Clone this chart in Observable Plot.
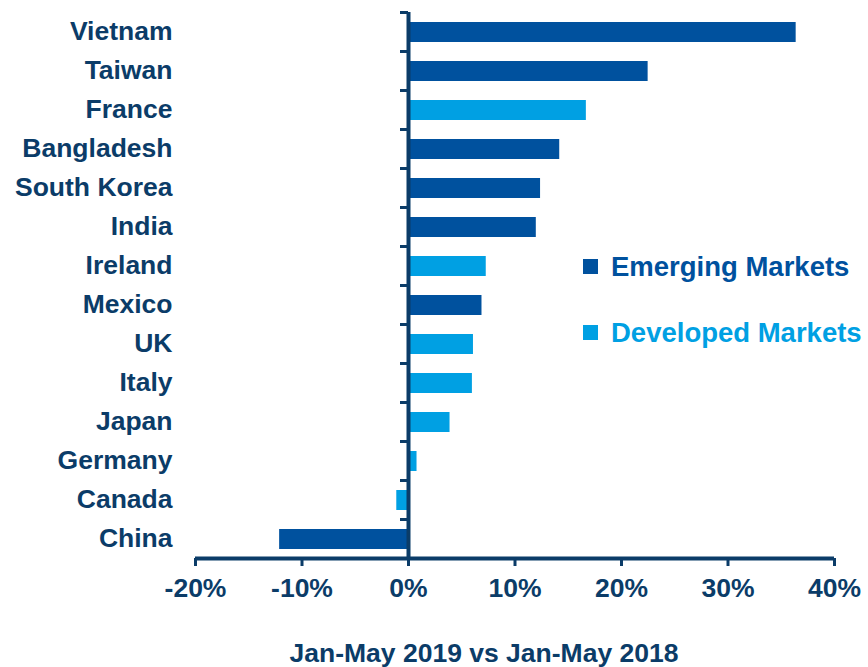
<!DOCTYPE html>
<html><head><meta charset="utf-8">
<script src="https://cdn.jsdelivr.net/npm/d3@7"></script>
<script src="https://cdn.jsdelivr.net/npm/@observablehq/plot@0.6"></script>
<style>
body{margin:0;background:#fff;font-family:"Liberation Sans",Arial,sans-serif;}
#wrap{position:relative;width:868px;height:667px;overflow:hidden;}
#title{position:absolute;left:100px;width:768px;top:638px;text-align:center;font-size:26.5px;font-weight:bold;color:#0B3C68;line-height:30px;white-space:nowrap;}
.leg{position:absolute;left:583px;font-size:27.5px;font-weight:bold;line-height:31px;white-space:nowrap;display:flex;align-items:center;}
.sw{width:15px;height:15px;margin-right:13px;display:inline-block;}
</style></head><body>
<div id="wrap"><div id="chart"></div><div id="title"></div><div id="legend"></div></div>
<script>
const countries = ["Vietnam","Taiwan","France","Bangladesh","South Korea","India","Ireland","Mexico","UK","Italy","Japan","Germany","Canada","China"];
const values = [36.4,22.5,16.7,14.2,12.4,12.0,7.3,6.9,6.1,6.0,3.9,0.8,-1.1,-12.1];
const groups = ["Emerging Markets","Emerging Markets","Developed Markets","Emerging Markets","Emerging Markets","Emerging Markets","Developed Markets","Emerging Markets","Developed Markets","Developed Markets","Developed Markets","Developed Markets","Developed Markets","Emerging Markets"];
const xTicks = [-20,-10,0,10,20,30,40];
const seriesNames = ["Emerging Markets","Developed Markets"];
const seriesColors = ["#00519E","#00A0E3"];
const xTitle = "Jan-May 2019 vs Jan-May 2018";

const navy = "#0B3C68";
const n = countries.length;
const data = countries.map((c,i)=>({country:c, value:values[i], group:groups[i], i}));

const plot = Plot.plot({
  width: 868, height: 638,
  marginLeft: 195, marginRight: 34, marginTop: 12, marginBottom: 80,
  style: {fontFamily: "Liberation Sans, Arial, sans-serif", fontSize: "26.5px", fontWeight: "bold", color: navy, background: "transparent"},
  x: {domain: [xTicks[0], xTicks[xTicks.length-1]]},
  y: {domain: [0, n], reverse: true},
  color: {domain: seriesNames, range: seriesColors},
  marks: [
    Plot.rect(data, {x1: 0, x2: "value", y1: "i", y2: d => d.i + 1, fill: "group", insetTop: 10, insetBottom: 9}),
    Plot.ruleY([n], {stroke: navy, strokeWidth: 4}),
    Plot.ruleY(d3.range(n + 1), {x1: 0, x2: 0, insetLeft: -8, stroke: navy, strokeWidth: 3}),
    Plot.ruleX([0], {stroke: navy, strokeWidth: 4}),
    Plot.axisX(xTicks, {tickSize: 8, tickPadding: 12, tickFormat: d => `${d}%`, stroke: navy, strokeWidth: 3, label: null, fill: navy}),
    Plot.axisY(d3.range(n).map(i => i + 0.5), {tickSize: 0, tickPadding: 23, tickFormat: d => countries[Math.floor(d)], label: null, fill: navy})
  ]
});
document.getElementById("chart").appendChild(plot);
document.getElementById("title").textContent = xTitle;

const legendTops = [251, 317];
const legend = document.getElementById("legend");
seriesNames.forEach((name, k) => {
  const row = document.createElement("div");
  row.className = "leg";
  row.style.top = legendTops[k] + "px";
  row.style.color = seriesColors[k];
  const sw = document.createElement("span");
  sw.className = "sw";
  sw.style.background = seriesColors[k];
  row.appendChild(sw);
  row.appendChild(document.createTextNode(name));
  legend.appendChild(row);
});
</script>
</body></html>
